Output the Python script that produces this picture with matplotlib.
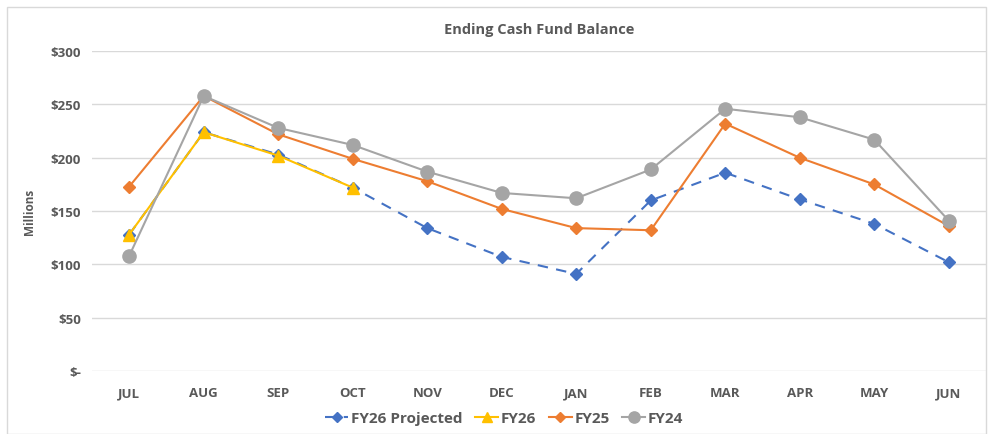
import matplotlib.pyplot as plt
from matplotlib.patches import Rectangle

months = ['JUL', 'AUG', 'SEP', 'OCT', 'NOV', 'DEC', 'JAN', 'FEB', 'MAR', 'APR', 'MAY', 'JUN']
fy26_proj = [128, 224, 203, 172, 134, 107, 91, 160, 186, 161, 138, 102]
fy26 = [128, 224, 202, 172]
fy25 = [173, 258, 222, 199, 178, 152, 134, 132, 232, 200, 175, 136]
fy24 = [108, 258, 228, 212, 187, 167, 162, 189, 246, 238, 217, 141]
yticks = [0, 50, 100, 150, 200, 250, 300]
ytick_labels = ['$-', '$50', '$100', '$150', '$200', '$250', '$300']

txt = '#595959'
plt.rcParams['font.family'] = ['Open Sans', 'DejaVu Sans']

fig = plt.figure(figsize=(9.89, 4.35), dpi=100)
fig.patches.append(Rectangle((0.007, 0.0), 0.99, 0.982, transform=fig.transFigure,
                             fill=False, edgecolor='#d9d9d9', linewidth=1))
ax = fig.add_axes([0.093, 0.145, 0.904, 0.735])

x = list(range(len(months)))
ax.plot(x, fy26_proj, color='#4472C4', linestyle=(0, (5, 4)), linewidth=1.5,
        marker='D', markersize=6.5, label='FY26 Projected', zorder=3)
ax.plot(x[:len(fy26)], fy26, color='#FFC000', linewidth=1.5,
        marker='^', markersize=9, label='FY26', zorder=4)
ax.plot(x, fy25, color='#ED7D31', linewidth=1.5,
        marker='D', markersize=6.5, label='FY25', zorder=5)
ax.plot(x, fy24, color='#A5A5A5', linewidth=1.5,
        marker='o', markersize=9.5, label='FY24', zorder=6)

ax.set_xlim(-0.5, 11.5)
ax.set_ylim(0, 300)
ax.set_xticks(x)
ax.set_xticklabels(months, fontsize=9.5, fontweight='bold', color=txt)
ax.set_yticks(yticks)
ax.set_yticklabels(ytick_labels, fontsize=9.5, fontweight='bold', color=txt)
ax.tick_params(length=0, pad=11)
ax.tick_params(axis='y', pad=8)
ax.grid(axis='y', color='#d9d9d9', linewidth=1)
ax.set_axisbelow(True)
for s in ax.spines.values():
    s.set_visible(False)

ax.set_ylabel('Millions', fontsize=8.5, fontweight='bold', color=txt, labelpad=10)
ax.set_title('Ending Cash Fund Balance', fontsize=10.5, fontweight='bold', color=txt, pad=13)

leg = fig.legend(loc='lower center', bbox_to_anchor=(0.51, -0.012), ncol=4, frameon=False,
                 prop={'size': 11, 'weight': 'bold'}, handlelength=1.5, markerscale=0.85,
                 handletextpad=0.2, columnspacing=0.8, labelcolor=txt)

fig.savefig('out.png', dpi=100)
